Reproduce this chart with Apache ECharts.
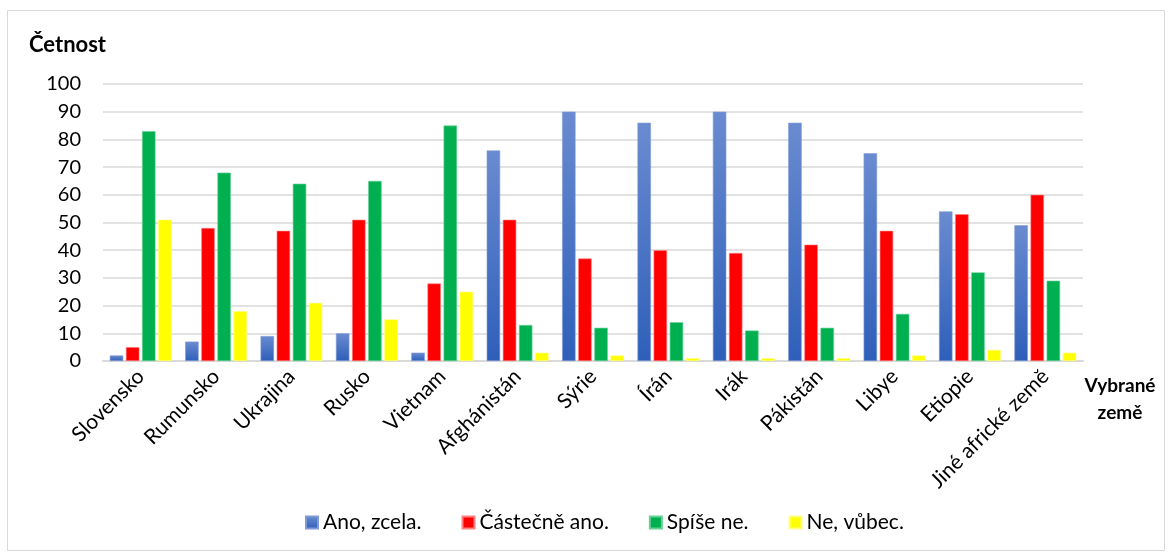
<!DOCTYPE html>
<html><head><meta charset="utf-8">
<script src="https://cdn.jsdelivr.net/npm/echarts@6/dist/echarts.min.js"></script>
<style>html,body{margin:0;padding:0;background:#fff}#c{width:1170px;height:552px}</style>
</head><body><div id="c"></div>
<script>
const categories = ['Slovensko','Rumunsko','Ukrajina','Rusko','Vietnam','Afghánistán','Sýrie','Írán','Irák','Pákistán','Libye','Etiopie','Jiné africké země'];
const seriesNames = ['Ano, zcela.','Částečně ano.','Spíše ne.','Ne, vůbec.'];
const anoZcela = [2,7,9,10,3,76,90,86,90,86,75,54,49];
const castecneAno = [5,48,47,51,28,51,37,40,39,42,47,53,60];
const spiseNe = [83,68,64,65,85,13,12,14,11,12,17,32,29];
const neVubec = [51,18,21,15,25,3,2,1,1,1,2,4,3];
const yTicks = [0,10,20,30,40,50,60,70,80,90,100];

const FONT = 'Lato, "Open Sans", sans-serif';
const blueGrad = new echarts.graphic.LinearGradient(0,0,0,1,[{offset:0,color:'#6a8bd0'},{offset:1,color:'#2e5fb9'}]);
const colors = [blueGrad,'#ff0000','#00b050','#ffff00'];
const borders = ['#7f9ad6','#ff8080','#66d096','#ffff80'];
const data = [anoZcela, castecneAno, spiseNe, neVubec];

const chart = echarts.init(document.getElementById('c'));
chart.setOption({
  animation:false,
  backgroundColor:'#fff',
  graphic:[
    {type:'rect',shape:{x:7.5,y:10.5,width:1157,height:540},style:{fill:'none',stroke:'#d9d9d9',lineWidth:1}},
    {type:'text',left:29,top:34,style:{text:'Četnost',font:'bold 22px '+FONT,fill:'#000'}},
    {type:'text',x:1120,y:372,style:{text:'Vybrané\nzemě',font:'bold 19px '+FONT,fill:'#000',align:'center',lineHeight:27}}
  ],
  grid:{left:103,right:87,top:84,bottom:191},
  legend:{
    data:seriesNames, left:300, top:507, icon:'rect', itemWidth:12, itemHeight:12, itemGap:40,
    textStyle:{fontFamily:FONT,fontSize:21,color:'#000'}
  },
  xAxis:{
    type:'category', data:categories,
    axisLine:{lineStyle:{color:'#d9d9d9',width:2}},
    axisTick:{show:false},
    axisLabel:{rotate:45,interval:0,fontFamily:FONT,fontSize:21,color:'#000',margin:12}
  },
  yAxis:{
    type:'value', min:yTicks[0], max:yTicks[yTicks.length-1], interval:10,
    axisLine:{show:false}, axisTick:{show:false},
    splitLine:{lineStyle:{color:'#d9d9d9',width:1.5}},
    axisLabel:{fontFamily:FONT,fontSize:20,color:'#000',margin:22}
  },
  series: seriesNames.map((n,i)=>({
    name:n, type:'bar', data:data[i],
    barGap:'20%', barCategoryGap:'18%',
    itemStyle:{color:colors[i],borderColor:borders[i],borderWidth:0.6}
  }))
});
</script></body></html>
